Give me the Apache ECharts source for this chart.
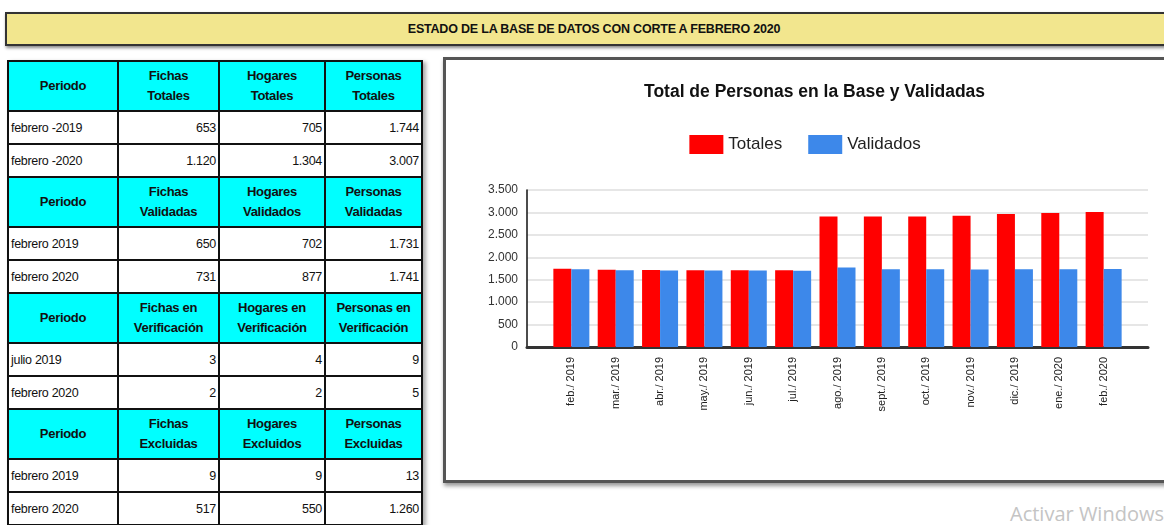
<!DOCTYPE html>
<html>
<head>
<meta charset="utf-8">
<script src="https://cdn.jsdelivr.net/npm/echarts@6/dist/echarts.min.js"></script>
<style>
  body { margin: 0; width: 1164px; height: 525px; overflow: hidden; position: relative; background: #fff; font-family: Arial, "Liberation Sans", sans-serif; }
  .banner { position: absolute; left: 5px; top: 12px; width: 1170px; height: 30px; background: #f2e68e; border: 2px solid #333; box-shadow: 1px 2px 3px #888; text-align: center; line-height: 30px; font-family: Arial, "Liberation Sans", sans-serif; font-weight: bold; font-size: 12.5px; letter-spacing: -0.2px; color: #111; }
  .banner span { display: inline-block; margin-left: 4px; }
  table.tbl { position: absolute; left: 7px; top: 60px; width: 416px; table-layout: fixed; border-collapse: collapse; font-family: Arial, "Liberation Sans", sans-serif; font-size: 12.5px; letter-spacing: -0.3px; color: #111; box-shadow: 3px 2px 4px #aaa; }
  table.tbl td { border: 2px solid #111; padding: 0 2px; overflow: hidden; white-space: nowrap; }
  table.tbl tr.h td { background: #00ffff; font-weight: bold; font-size: 13px; text-align: center; height: 48px; line-height: 20px; vertical-align: middle; }
  table.tbl tr.d td { background: #fff; height: 31px; text-align: right; }
  table.tbl tr.d td:first-child { text-align: left; }
  .panel { position: absolute; left: 443px; top: 57px; width: 730px; height: 420px; border: 3px solid #555; box-shadow: 1px 3px 4px #999; background: #fff; }
  #chart { position: absolute; left: 446px; top: 60px; width: 718px; height: 417px; }
  .wm { position: absolute; left: 1010px; top: 500px; font-family: "Open Sans", sans-serif; font-size: 20px; color: #c4c4c4; white-space: nowrap; }
</style>
</head>
<body>
<div class="banner"><span>ESTADO DE LA BASE DE DATOS CON CORTE A FEBRERO 2020</span></div>
<table class="tbl" id="tbl"></table>
<div class="panel"></div>
<div id="chart"></div>
<div class="wm">Activar Windows</div>
<script>
// tabla de estado
const headTotales = ['Periodo', 'Fichas<br>Totales', 'Hogares<br>Totales', 'Personas<br>Totales']
const rowsTotales = [['febrero -2019', 653, 705, 1744], ['febrero -2020', 1120, 1304, 3007]]
const headValidadas = ['Periodo', 'Fichas<br>Validadas', 'Hogares<br>Validados', 'Personas<br>Validadas']
const rowsValidadas = [['febrero 2019', 650, 702, 1731], ['febrero 2020', 731, 877, 1741]]
const headVerif = ['Periodo', 'Fichas en<br>Verificación', 'Hogares en<br>Verificación', 'Personas en<br>Verificación']
const rowsVerif = [['julio 2019', 3, 4, 9], ['febrero 2020', 2, 2, 5]]
const headExcl = ['Periodo', 'Fichas<br>Excluidas', 'Hogares<br>Excluidos', 'Personas<br>Excluidas']
const rowsExcl = [['febrero 2019', 9, 9, 13], ['febrero 2020', 517, 550, 1260]]
const colWidths = [110, 101, 106, 97]

// grafico
const meses = ['feb./ 2019', 'mar./ 2019', 'abr./ 2019', 'may./ 2019', 'jun./ 2019', 'jul./ 2019', 'ago./ 2019',
  'sept./ 2019', 'oct./ 2019', 'nov./ 2019', 'dic./ 2019', 'ene./ 2020', 'feb./ 2020']
const totales = [1744, 1722, 1714, 1712, 1710, 1710, 2910, 2910, 2910, 2925, 2965, 2985, 3007]
const validados = [1731, 1712, 1708, 1706, 1703, 1700, 1775, 1732, 1732, 1728, 1732, 1732, 1741]

const fmt = v => Number(v).toString().replace(/\B(?=(\d{3})+(?!\d))/g, '.')

function buildTable () {
  let html = '<colgroup>' + colWidths.map(w => `<col style="width:${w}px">`).join('') + '</colgroup>'
  const sections = [[headTotales, rowsTotales], [headValidadas, rowsValidadas], [headVerif, rowsVerif], [headExcl, rowsExcl]]
  sections.forEach(([head, rows]) => {
    html += '<tr class="h">' + head.map(t => `<td>${t}</td>`).join('') + '</tr>'
    rows.forEach(r => {
      html += '<tr class="d">' + r.map((v, i) => `<td>${i === 0 ? v : fmt(v)}</td>`).join('') + '</tr>'
    })
  })
  document.getElementById('tbl').innerHTML = html
}
buildTable()

const myChart = echarts.init(document.getElementById('chart'), null, { renderer: 'canvas' })
myChart.setOption({
  animation: false,
  title: {
    text: 'Total de Personas en la Base y Validadas',
    left: 193,
    top: 18,
    textStyle: { fontSize: 17.5, fontWeight: 'bold', color: '#111', fontFamily: 'Arial' }
  },
  legend: {
    top: 70,
    left: 'center',
    itemWidth: 34,
    itemHeight: 19,
    itemGap: 26,
    icon: 'rect',
    textStyle: { fontSize: 17, color: '#222', fontFamily: 'Arial' },
    data: ['Totales', 'Validados']
  },
  grid: { left: 81, right: 16, top: 130, bottom: 130 },
  xAxis: {
    type: 'value',
    min: -1,
    max: 13,
    interval: 1,
    splitLine: { show: false },
    axisLine: { show: true, onZero: false, lineStyle: { color: '#333', width: 3 } },
    axisTick: { show: false },
    axisLabel: {
      rotate: 90,
      margin: 10,
      fontSize: 11,
      color: '#222',
      fontFamily: 'Arial',
      formatter: v => meses[v] || ''
    }
  },
  yAxis: {
    type: 'value',
    min: 0,
    max: 3500,
    interval: 500,
    axisLine: { show: true, onZero: false, lineStyle: { color: '#111', width: 1.5 } },
    axisTick: { show: false },
    splitLine: { lineStyle: { color: '#dedede', width: 1.5 } },
    axisLabel: { margin: 9, fontSize: 12, color: '#333', fontFamily: 'Arial', formatter: fmt }
  },
  series: [
    {
      name: 'Totales',
      type: 'bar',
      barWidth: 18,
      barGap: '0%',
      itemStyle: { color: '#ff0000' },
      data: totales.map((v, i) => [i, v])
    },
    {
      name: 'Validados',
      type: 'bar',
      barWidth: 18,
      barGap: '0%',
      itemStyle: { color: '#3d88ea' },
      data: validados.map((v, i) => [i, v])
    }
  ]
})
</script>
</body>
</html>
